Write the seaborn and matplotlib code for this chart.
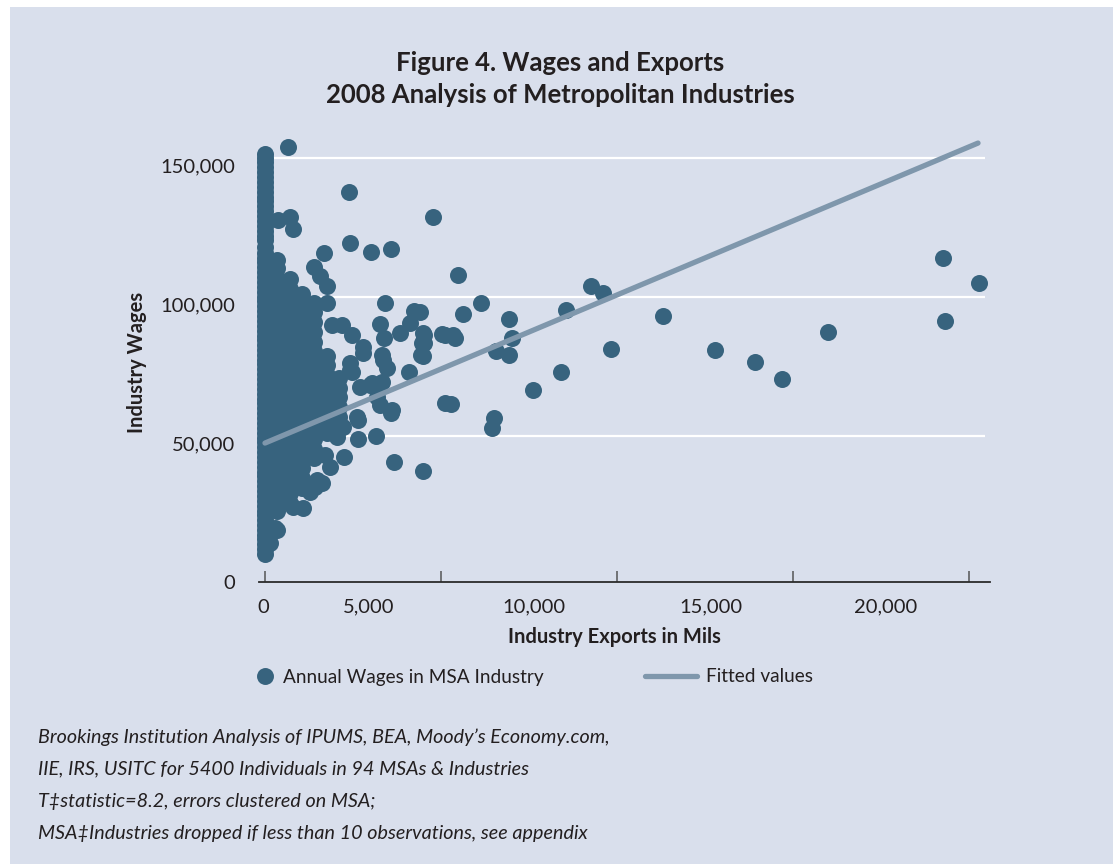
import numpy as np
import pandas as pd
import matplotlib
matplotlib.use("Agg")
import matplotlib.pyplot as plt
from matplotlib.patches import Rectangle
from matplotlib.lines import Line2D
from matplotlib.transforms import ScaledTranslation
import seaborn as sns

# Dense core of MSA industries with small export volumes:
# one list of annual wages (thousands of $) per export level (millions of $)
core_exports = [0, 0, 350, 700, 1050, 1400, 1750, 2100]
core_wages_k = [
    [7.5, 11, 14.5, 18, 21.5, 25, 28.5, 32, 35.5, 39, 42.5, 46, 49.5, 53, 56.5,
     60, 63.5, 67, 70.5, 74, 77.5, 81, 84.5, 88, 91.5, 95, 98.5, 102, 105.5,
     109, 112.5, 116, 120.5, 124, 127.5, 131, 134.5, 138, 141.5, 145, 148.5, 151.5],
    [9.2, 12.8, 16.2, 19.8, 23.2, 26.8, 30.2, 33.8, 37.2, 40.8, 44.2, 47.8, 51.2,
     54.8, 58.2, 61.8, 65.2, 68.8, 72.2, 75.8, 79.2, 82.8, 86.2, 89.8, 93.2,
     96.8, 100.2, 103.8, 107.2, 110.8, 114.2, 118.2, 122.2, 125.8, 129.2, 132.8,
     136.2, 139.8, 143.2, 146.8, 150.2],
    [23, 26.5, 30, 33.5, 37, 40.5, 44, 47.5, 51, 54.5, 58, 61.5, 65, 68.5, 72,
     75.5, 79, 82.5, 86, 89.5, 93, 96.5, 100, 103.5, 107, 110.5, 113.5],
    [26, 29.5, 33, 36.5, 40, 43.5, 47, 50.5, 54, 57.5, 61, 64.5, 68, 71.5, 75,
     78.5, 82, 85.5, 89, 92.5, 96, 99.5, 103, 106.5],
    [31.5, 35, 38.5, 42, 45.5, 49, 52.5, 56, 59.5, 63, 66.5, 70, 73.5, 77, 80.5,
     84, 87.5, 91, 94.5, 98, 101],
    [42, 45.5, 49, 52.5, 56, 59.5, 63, 66.5, 70, 73.5, 77, 80.5, 84, 87.5, 91,
     94.5, 98],
    [51, 54.5, 58, 61.5, 65, 68.5, 72, 75.5, 79],
    [57, 60.5, 64, 67.5, 71],
]

# Individual MSA industries outside the core
spread_exports = [
    650, 2390, 4770, 710, 800, 370, 2420, 3010, 3580, 1680, 1390, 1560, 1760,
    1760, 3410, 4230, 4120, 3270, 3380, 3840, 4490, 5030, 4460, 1900, 2190,
    2470, 2780, 2780, 3320, 4430, 3350, 2420, 2420, 3470, 4090, 2470, 2980,
    3040, 3320, 2700, 3180, 3270, 3580, 3610, 5110, 2610, 2640, 2220, 2070,
    2040, 2640, 3150, 1700, 2240, 1850, 3660, 4490, 1620, 1480, 1420, 1280,
    1080, 800, 340, 280, 140,
    5480, 6140, 5630, 6930, 5110, 5340, 5400, 4520, 4520, 4490, 4400, 7020,
    6560, 6930, 8550, 9260, 9600, 9830, 8410, 7610, 5280, 6510, 6450,
    11310, 12780, 13920, 14690, 15990, 19260, 20280, 19320,
]
spread_wages_k = [
    154.1, 137.9, 128.7, 128.9, 124.6, 127.8, 119.5, 116.3, 117.4, 115.9,
    110.9, 107.6, 104.0, 97.9, 97.9, 95.0, 90.6, 90.4, 85.3, 87.1, 87.1, 86.8,
    83.5, 90.0, 90.0, 86.4, 82.0, 79.9, 79.2, 79.2, 77.4, 76.3, 73.8, 74.5,
    73.1, 73.1, 68.4, 69.1, 69.5, 67.7, 64.1, 61.2, 58.3, 59.4, 61.9, 56.9,
    55.8, 53.3, 52.2, 49.7, 49.0, 50.0, 43.2, 42.5, 38.9, 40.7, 37.4, 33.1,
    34.2, 31.7, 29.9, 24.1, 24.5, 16.2, 16.9, 11.5,
    108.0, 97.9, 94.0, 92.2, 86.4, 86.4, 85.3, 86.4, 83.5, 78.8, 94.7, 85.3,
    80.6, 79.2, 95.4, 104.0, 101.5, 81.4, 73.1, 66.6, 61.6, 56.5, 52.9,
    93.2, 81.0, 76.7, 70.6, 87.5, 114.1, 105.1, 91.4,
]

# Fitted values of the wage-on-exports regression
fit_exports = [0, 20260]
fit_wages = [47500, 155500]

x_ticks = [0, 5000, 10000, 15000, 20000]
x_tick_labels = ["0", "5,000", "10,000", "15,000", "20,000"]
x_label_pos = [-60, 2950, 7640, 12670, 17640]
y_ticks = [0, 50000, 100000, 150000]
y_tick_labels = ["0", "50,000", "100,000", "150,000"]
grid_levels = [50000, 100000, 150000]

BG = "#d9dfec"
PT = "#37637e"
FIT = "#7f97ac"
INK = "#231f20"

rows_x, rows_y = [], []
for ex, col in zip(core_exports, core_wages_k):
    for w in col:
        rows_x.append(ex)
        rows_y.append(w * 1000)
for ex, w in zip(spread_exports, spread_wages_k):
    rows_x.append(ex)
    rows_y.append(w * 1000)
df = pd.DataFrame({"exports": rows_x, "wages": rows_y})

sns.set_theme(style="white")
plt.rcParams["font.family"] = ["Lato", "DejaVu Sans"]

W, H = 1113, 864
fig = plt.figure(figsize=(W / 100, H / 100), dpi=100, facecolor="white")
fig.patches.append(Rectangle((10 / W, 0), 1, 1 - 7 / H, transform=fig.transFigure,
                             facecolor=BG, edgecolor="none", zorder=-10))

ax_l, ax_r, ax_t, ax_b = 259, 990, 130, 582
ax = fig.add_axes([ax_l / W, 1 - ax_b / H, (ax_r - ax_l) / W, (ax_b - ax_t) / H])
ax.set_facecolor(BG)

ax.hlines(grid_levels, 0, 20450, color="white", lw=1.6, zorder=1)

sns.scatterplot(data=df, x="exports", y="wages", s=150, color=PT, linewidth=0,
                alpha=1, ax=ax, zorder=3, legend=False)
ax.collections[-1].set_clip_on(False)

sns.lineplot(x=fit_exports, y=fit_wages, color=FIT, lw=3.8, ax=ax, zorder=4,
             solid_capstyle="round")

ax.set_xlim(-170, 20600)
ax.set_ylim(-2520, 160200)

for side in ["top", "right", "left"]:
    ax.spines[side].set_visible(False)
ax.spines["bottom"].set_color("#2b2b2b")
ax.spines["bottom"].set_linewidth(1.3)

# tick marks carry no text; the export labels sit on zero-length minor ticks
ax.set_xticks(x_ticks)
ax.set_xticklabels([""] * len(x_ticks))
ax.tick_params(axis="x", which="major", direction="in", length=8, width=1.1,
               color="#555555", bottom=True)
ax.set_xticks(x_label_pos, minor=True)
ax.set_xticklabels(x_tick_labels, minor=True)
ax.tick_params(axis="x", which="minor", length=0, pad=12, labelsize=14.5,
               labelcolor=INK)

ax.set_yticks(y_ticks)
ax.set_yticklabels(y_tick_labels)
ax.tick_params(axis="y", length=0, pad=17, labelsize=14.5, labelcolor=INK)
shift = ScaledTranslation(0, -7 / 100, fig.dpi_scale_trans)
for lab in ax.get_yticklabels():
    lab.set_transform(lab.get_transform() + shift)

ax.set_xlabel("Industry Exports in Mils", fontsize=14.5, fontweight="bold", color=INK)
ax.xaxis.set_label_coords((614 - ax_l) / (ax_r - ax_l), -(627 - ax_b) / (ax_b - ax_t))
ax.set_ylabel("Industry Wages", fontsize=14.5, fontweight="bold", color=INK)
ax.yaxis.set_label_coords(-(ax_l - 147) / (ax_r - ax_l), (ax_b - 362) / (ax_b - ax_t))

fig.text(560 / W, 1 - 63 / H, "Figure 4. Wages and Exports", ha="center", va="center",
         fontsize=18.5, fontweight="bold", color=INK)
fig.text(560 / W, 1 - 95 / H, "2008 Analysis of Metropolitan Industries", ha="center",
         va="center", fontsize=18.5, fontweight="bold", color=INK)

# legend: two separate entries spaced across the width
h_pts = Line2D([], [], marker="o", ls="", markersize=12.2, color=PT, markeredgewidth=0)
h_fit = Line2D([], [], color=FIT, lw=3.8)
leg_kw = dict(loc="center left", frameon=False, borderpad=0, borderaxespad=0,
              handletextpad=0.48, prop={"size": 13.7})
leg1 = fig.legend([h_pts], ["Annual Wages in MSA Industry"],
                  bbox_to_anchor=(256 / W, 1 - 677 / H), handlelength=0.95, **leg_kw)
leg2 = fig.legend([h_fit], ["Fitted values"],
                  bbox_to_anchor=(645 / W, 1 - 677 / H), handlelength=2.75, **leg_kw)
for leg in (leg1, leg2):
    for t in leg.get_texts():
        t.set_color(INK)

notes = [
    "Brookings Institution Analysis of IPUMS, BEA, Moody\u2019s Economy.com,",
    "IIE, IRS, USITC for 5400 Individuals in 94 MSAs & Industries",
    "T\u2021statistic=8.2, errors clustered on MSA;",
    "MSA\u2021Industries dropped if less than 10 observations, see appendix",
]
for i, line in enumerate(notes):
    fig.text(38 / W, 1 - (737 + 32 * i) / H, line, ha="left", va="center",
             fontsize=14.2, fontstyle="italic", color=INK)

fig.savefig("out.png", dpi=100, facecolor="white")
